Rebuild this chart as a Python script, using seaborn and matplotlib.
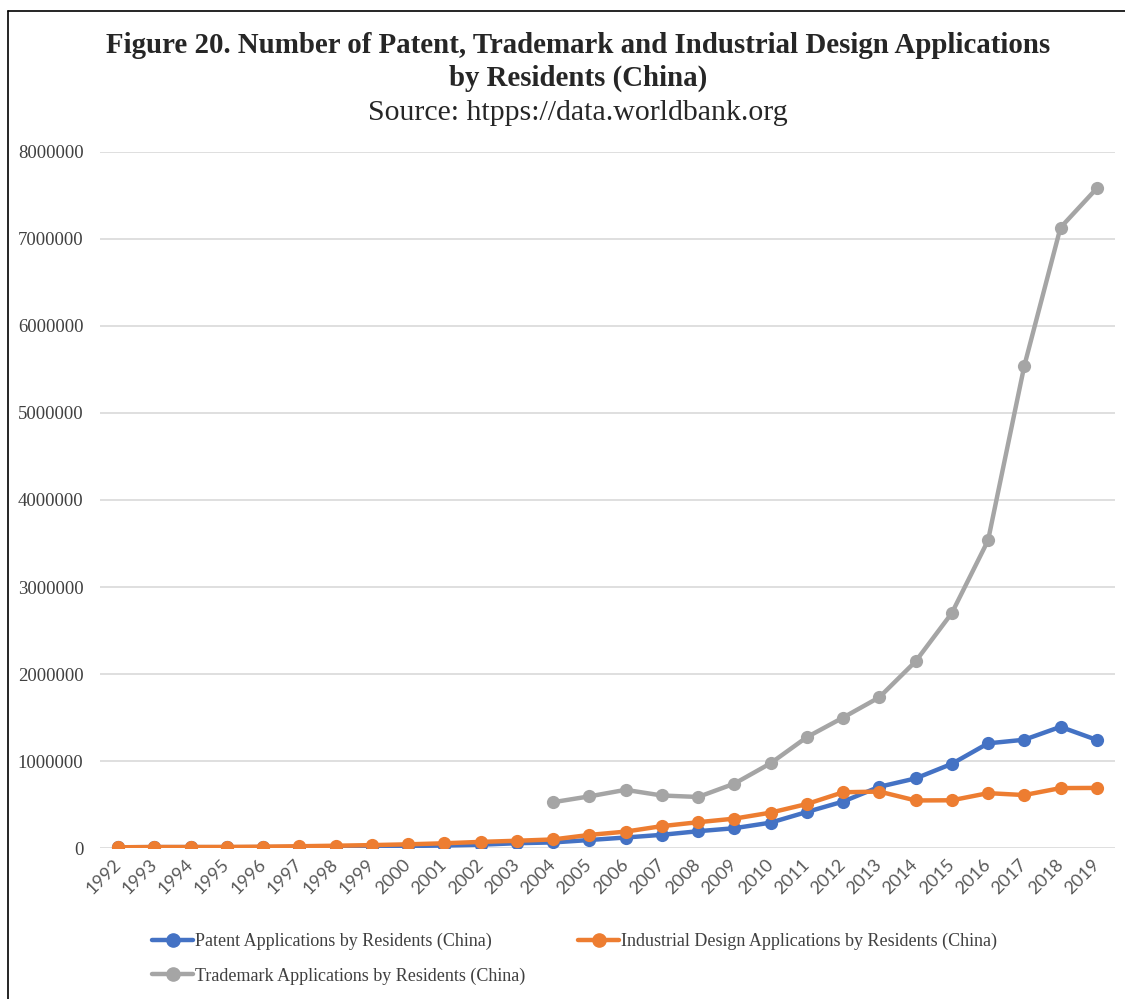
import numpy as np
import pandas as pd
import matplotlib
matplotlib.use("Agg")
import matplotlib.pyplot as plt
import seaborn as sns
from matplotlib.lines import Line2D

# data
years = list(range(1992, 2020))

patent = [10000, 12000, 12000, 11000, 12000, 12700, 13700, 15600, 25300, 30000,
          39800, 56800, 65800, 93500, 122300, 153000, 194600, 229100, 293000, 415800,
          535300, 704900, 801100, 968300, 1204000, 1245700, 1393800, 1243600]

design = [10000, 13000, 13000, 14000, 17000, 22000, 28000, 35000, 44000, 56000,
          72000, 85000, 100000, 152000, 190000, 253000, 298000, 339000, 408000, 507000,
          642000, 650000, 548000, 550000, 632000, 610000, 690000, 692000]

tm_years = list(range(2004, 2020))
trademark = [528000, 595000, 670000, 605000, 588000, 741000, 975000, 1275000,
             1500000, 1733000, 2145000, 2700000, 3535000, 5540000, 7130000, 7580000]

names = ["Patent Applications by Residents (China)",
         "Industrial Design Applications by Residents (China)",
         "Trademark Applications by Residents (China)"]
colors = ["#4472C4", "#ED7D31", "#A5A5A5"]

df = pd.concat([
    pd.DataFrame({"year": years, "value": patent, "series": names[0]}),
    pd.DataFrame({"year": years, "value": design, "series": names[1]}),
    pd.DataFrame({"year": tm_years, "value": trademark, "series": names[2]}),
])

sns.set_theme(style="white")
fig = plt.figure(figsize=(11.25, 9.99), dpi=100)
ax = fig.add_axes([0.089, 0.151, 0.902, 0.697])

sns.lineplot(data=df, x="year", y="value", hue="series", hue_order=names,
             palette=colors, marker="o", markersize=9.5, markeredgewidth=0,
             linewidth=3.2, ax=ax, legend=False, zorder=3)

ax.set_xlim(1991.5, 2019.5)
ax.set_ylim(0, 8000000)
ax.set_yticks(np.arange(0, 8000001, 1000000))
ax.set_yticklabels([str(int(v)) for v in np.arange(0, 8000001, 1000000)],
                   family="Liberation Serif", fontsize=13.5, color="#404040")
ax.set_xticks(years)
ax.set_xticklabels([str(y) for y in years], rotation=45, ha="right", va="center",
                   rotation_mode="anchor", family="Lato", fontsize=13, color="#595959")
ax.tick_params(axis="x", length=0, pad=10)
ax.tick_params(axis="y", length=0, pad=12)
ax.grid(axis="y", color="#D9D9D9", linewidth=1.2, zorder=0)
ax.set_xlabel("")
ax.set_ylabel("")
for s in ax.spines.values():
    s.set_visible(False)

fig.text(0.514, 0.954, "Figure 20. Number of Patent, Trademark and Industrial Design Applications",
         ha="center", va="center", family="Liberation Serif", weight="bold", fontsize=20.8)
fig.text(0.514, 0.922, "by Residents (China)", ha="center", va="center",
         family="Liberation Serif", weight="bold", fontsize=20.8)
fig.text(0.514, 0.887, "Source: htpps://data.worldbank.org", ha="center", va="center",
         family="Liberation Serif", fontsize=21.5)

handles = [Line2D([], [], color=colors[0], linewidth=3.2, marker="o", markersize=9.5),
           Line2D([], [], color=colors[2], linewidth=3.2, marker="o", markersize=9.5),
           Line2D([], [], color=colors[1], linewidth=3.2, marker="o", markersize=9.5)]
labels = [names[0], names[2], names[1]]
leg = fig.legend(handles, labels, loc="upper left", bbox_to_anchor=(0.127, 0.075),
                 ncol=2, frameon=False, handlelength=2.3, handletextpad=0.1,
                 columnspacing=2.9, labelspacing=0.95, borderpad=0,
                 prop={"family": "Liberation Serif", "size": 13})
for t in leg.get_texts():
    t.set_color("#404040")

# page frame (left and top edge)
fig.add_artist(Line2D([0.007, 0.007], [0.0, 0.989], transform=fig.transFigure,
                      color="black", linewidth=1.2))
fig.add_artist(Line2D([0.007, 1.0], [0.989, 0.989], transform=fig.transFigure,
                      color="black", linewidth=1.2))

fig.savefig("out.png", dpi=100, facecolor="white")
